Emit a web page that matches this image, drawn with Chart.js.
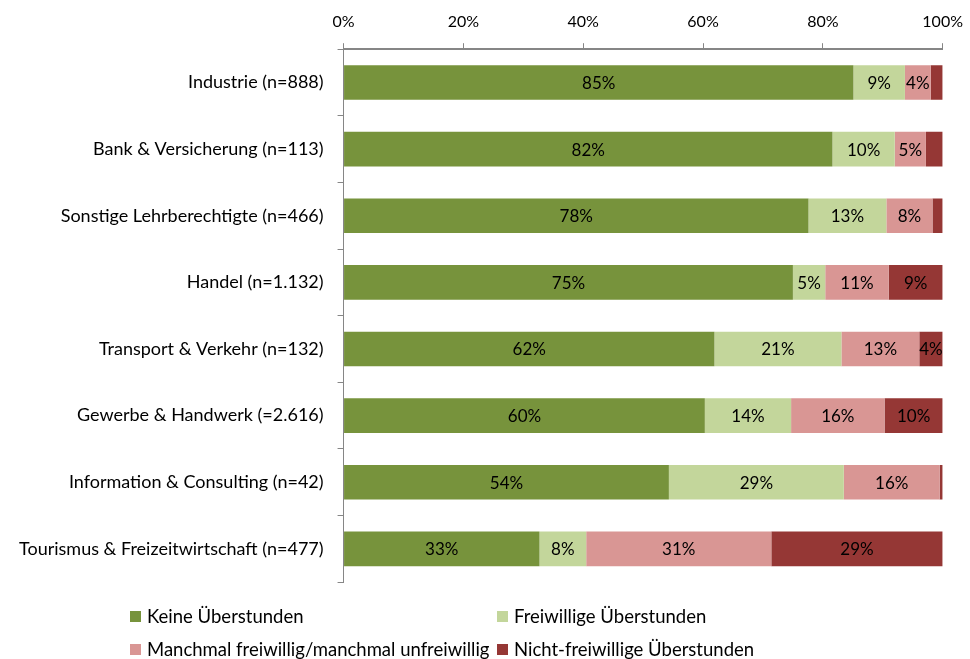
<!DOCTYPE html>
<html lang="de">
<head>
<meta charset="UTF-8">
<title>Überstunden nach Branche</title>
<style>
  body { margin: 0; background: #fff; font-family: Lato, sans-serif; }
  .wrap { position: relative; width: 970px; height: 659px; overflow: hidden; }
  .chartbox { position: absolute; left: 0; top: 0; width: 975px; height: 607px; }
  .legende { position: absolute; left: 130px; top: 605px; display: grid; grid-template-columns: 367px 367px; row-gap: 11px; font-size: 18.5px; color: #000; }
  .legende span { display: inline-block; width: 11px; height: 11px; margin-right: 6px; vertical-align: 1px; }
</style>
</head>
<body>
<div class="wrap">
  <div class="chartbox"><canvas id="grafico"></canvas></div>
  <div class="legende" id="legende"></div>
</div>

<script src="https://cdn.jsdelivr.net/npm/chart.js"></script>
<script>
// Branchen
const branchen = ['Industrie (n=888)', 'Bank & Versicherung (n=113)', 'Sonstige Lehrberechtigte (n=466)', 'Handel (n=1.132)',
  'Transport & Verkehr (n=132)', 'Gewerbe & Handwerk (=2.616)', 'Information & Consulting (n=42)', 'Tourismus & Freizeitwirtschaft (n=477)'];

const keine = [85.1, 81.6, 77.6, 75.0, 61.9, 60.3, 54.3, 32.7];
const freiwillig = [8.6, 10.4, 13.0, 5.4, 21.2, 14.4, 29.2, 7.8];
const manchmal = [4.3, 5.2, 7.7, 10.6, 13.0, 15.6, 16.0, 30.9];
const nichtFreiwillig = [2.0, 2.8, 1.7, 9.0, 3.9, 9.7, 0.5, 28.6];

const serienNamen = ['Keine Überstunden', 'Freiwillige Überstunden', 'Manchmal freiwillig/manchmal unfreiwillig', 'Nicht-freiwillige Überstunden'];
const farben = ['#77933c', '#c3d69b', '#d99694', '#953735'];

const xTicks = [0, 20, 40, 60, 80, 100];

// Beschriftung in den Balken
const balkenText = {
  id: 'balkenText',
  afterDatasetsDraw(chart) {
    const c = chart.ctx;
    c.save();
    c.font = '17px Lato';
    c.fillStyle = '#000';
    c.textAlign = 'center';
    c.textBaseline = 'middle';
    chart.data.datasets.forEach((ds, i) => {
      chart.getDatasetMeta(i).data.forEach((bar, j) => {
        const v = ds.data[j];
        if (v < 3.5) return;
        const mitte = (bar.x + bar.base) / 2;
        c.fillText(Math.round(v) + '%', mitte, bar.y + 1);
      });
    });
    c.restore();
  }
};

const ctx = document.getElementById('grafico');
Chart.defaults.font.family = 'Lato';
Chart.defaults.font.size = 16;
Chart.defaults.color = '#000';

new Chart(ctx, {
  type: 'bar',
  data: {
    labels: branchen,
    datasets: [keine, freiwillig, manchmal, nichtFreiwillig].map((d, i) => ({
      label: serienNamen[i],
      data: d,
      backgroundColor: farben[i],
      borderWidth: 0,
      categoryPercentage: 1,
      barPercentage: 0.52
    }))
  },
  options: {
    indexAxis: 'y',
    responsive: true,
    maintainAspectRatio: false,
    animation: false,
    layout: { padding: { left: 5, right: 24, top: 0, bottom: 8 } },
    plugins: { legend: { display: false }, tooltip: { enabled: false } },
    scales: {
      x: {
        position: 'top',
        stacked: true,
        min: 0, max: 100,
        afterBuildTicks: (ax) => { ax.ticks = xTicks.map(v => ({ value: v })); },
        ticks: { callback: v => v + '%', padding: 12, maxRotation: 0 },
        grid: { drawOnChartArea: false, tickLength: 6, color: '#868686' },
        border: { color: '#868686', width: 2 }
      },
      y: {
        stacked: true,
        ticks: { padding: 14, font: { size: 18 } },
        grid: { drawOnChartArea: false, tickLength: 6, color: '#868686', offset: true },
        border: { color: '#868686', width: 1 }
      }
    }
  },
  plugins: [balkenText]
});

// Legende
const leg = document.getElementById('legende');
serienNamen.forEach((n, i) => {
  const d = document.createElement('div');
  d.innerHTML = '<span style="background:' + farben[i] + '"></span>' + n;
  leg.appendChild(d);
});
</script>
</body>
</html>
